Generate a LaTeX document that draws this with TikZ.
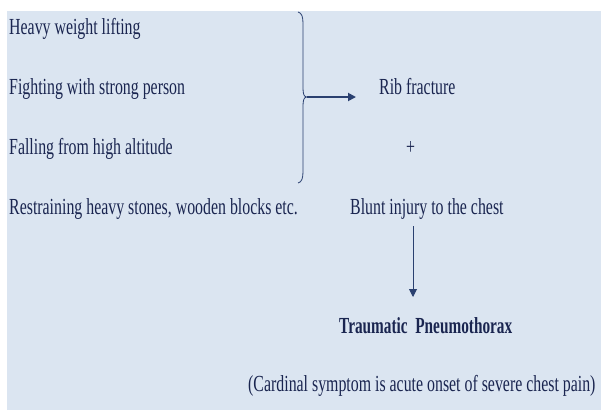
\documentclass[tikz,border=0pt]{standalone}
\usepackage{fontspec}
\setmainfont[FakeStretch=0.69,BoldFeatures={FakeStretch=0.665}]{Liberation Serif}
\usetikzlibrary{arrows.meta}
\definecolor{bg}{HTML}{DBE5F1}
\definecolor{ink}{HTML}{1A2550}
\definecolor{line}{HTML}{2A4070}
\tikzset{
  txt/.style={inner sep=0pt, anchor=base west, text=ink, font=\fontsize{23}{27}\selectfont},
  btxt/.style={txt, font=\fontsize{23}{27}\selectfont\bfseries},
  conn/.style={draw=line, -{Triangle[length=8pt,width=8pt]}},
}
\begin{document}
\begin{tikzpicture}[x=1pt,y=-1pt]
\useasboundingbox (0,0) rectangle (601,410);
\fill[bg] (7,11) rectangle (601,410);
\node[txt] (a) at (9,34) {Heavy weight lifting};
\node[txt] (b) at (9,94) {Fighting with strong person};
\node[txt] (c) at (9,154) {Falling from high altitude};
\node[txt] (d) at (9,214) {Restraining heavy stones, wooden blocks etc.};
\node[txt] (rib) at (379,94) {Rib fracture};
\node[txt] (plus) at (406,154) {+};
\node[txt] (blunt) at (350,214) {Blunt injury to the chest};
\node[btxt] (trauma) at (339,333) {Traumatic~~Pneumothorax};
\node[txt] (card) at (248,391) {(Cardinal symptom is acute onset of severe chest pain)};
\coordinate (btop) at (298,12);
\coordinate (btip) at (307,97);
\coordinate (bbot) at (298,183);
\coordinate (ribin) at (356,97);
\coordinate (dtop) at (413,226);
\coordinate (dbot) at (413,297);
\draw[line, line width=0.8pt] (btop) .. controls (302,13) and (303,17) .. (303,24)
  -- (303,88) .. controls (303,94) and (304,97) .. (btip)
  .. controls (304,97) and (303,100) .. (303,106)
  -- (303,171) .. controls (303,178) and (302,182) .. (bbot);
\draw[conn, line width=1.8pt] (btip) -- (ribin);
\draw[conn, line width=0.9pt] (dtop) -- (dbot);
\end{tikzpicture}
\end{document}
